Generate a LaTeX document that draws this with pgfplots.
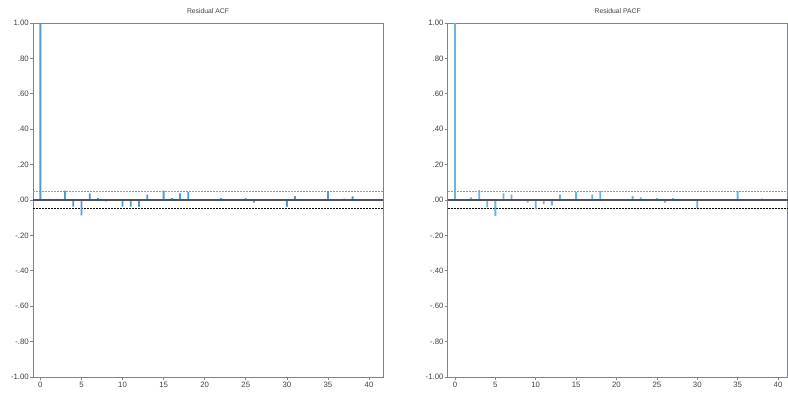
\documentclass[border=0pt]{standalone}
\usepackage{pgfplots}
\pgfplotsset{compat=1.18}
\usepackage{fontspec}
\setmainfont{Liberation Sans}
\definecolor{framec}{HTML}{80809C}
\definecolor{barc}{HTML}{4A9BD6}
\definecolor{barc2}{HTML}{6DB3E0}
\definecolor{zeroc}{HTML}{505060}
\definecolor{txtc}{HTML}{404040}
\pgfplotstableread{
lag val
0 1.0
1 0.007
2 0.007
3 0.053
4 -0.038
5 -0.087
6 0.038
7 0.01
8 -0.008
9 0.003
10 -0.038
11 -0.038
12 -0.038
13 0.03
14 0.005
15 0.053
16 0.01
17 0.038
18 0.045
19 0
20 0
21 0
22 0.01
23 0.005
24 0.005
25 0.01
26 -0.015
27 0
28 0
29 0
30 -0.038
31 0.022
32 0.005
33 0
34 0
35 0.05
36 0
37 0.008
38 0.02
}\acfdata
\pgfplotstableread{
lag val
0 1.0
1 0.005
2 0.015
3 0.056
4 -0.041
5 -0.09
6 0.038
7 0.03
8 -0.005
9 -0.015
10 -0.053
11 -0.023
12 -0.03
13 0.03
14 0.004
15 0.045
16 0.004
17 0.03
18 0.05
19 0
20 0
21 -0.005
22 0.022
23 0.015
24 0
25 0.01
26 -0.015
27 0.01
28 0
29 0.004
30 -0.045
31 0.004
32 0.004
33 0.004
34 0.004
35 0.05
36 0
37 0.005
38 0.008
}\pacfdata
\begin{document}
\begin{tikzpicture}
\useasboundingbox (0pt,0pt) rectangle (788pt,393pt);
\pgfplotsset{acfstyle/.style={
  scale only axis, height=354pt,
  anchor=south west,
  xmin=-0.9, xmax=41.7, ymin=-1, ymax=1,
  ytick={-1,-0.8,-0.6,-0.4,-0.2,0,0.2,0.4,0.6,0.8,1},
  yticklabels={\mbox{-1.00},\mbox{-.80},\mbox{-.60},\mbox{-.40},\mbox{-.20},\mbox{.00},\mbox{.20},\mbox{.40},\mbox{.60},\mbox{.80},\mbox{1.00}},
  xtick={0,5,...,40},
  /pgf/number format/assume math mode=true,
  tick pos=left, tick align=outside, major tick length=3pt,
  axis line style={framec, line width=0.8pt},
  every tick/.style={framec, line width=0.6pt},
  ticklabel style={font=\fontsize{7.8}{8}\selectfont, text=txtc},
  yticklabel style={inner sep=1pt},
  xticklabel style={yshift=0pt, inner sep=1.5pt},
  title style={font=\fontsize{6.8}{7}\selectfont, text=txtc, at={(0.5,1)}, anchor=south, yshift=0pt},
  clip=false,
}}
\begin{axis}[acfstyle, at={(33pt,16pt)}, width=350pt, title={Residual ACF}]
\addplot[gray!80, line width=0.6pt, dash pattern=on 2pt off 1pt] coordinates {(-0.9,0.047) (41.7,0.047)};
\addplot[black, line width=0.7pt, dash pattern=on 2pt off 1pt] coordinates {(-0.9,-0.047) (41.7,-0.047)};
\addplot[ybar, bar width=1.8pt, fill=barc, draw=none] table[x=lag, y=val] {\acfdata};
\addplot[zeroc, line width=1.3pt] coordinates {(-0.9,0) (41.7,0)};
\end{axis}
\begin{axis}[acfstyle, at={(447.7pt,16pt)}, width=340pt, xmax=41.2, title={Residual PACF}]
\addplot[gray!80, line width=0.6pt, dash pattern=on 2pt off 1pt] coordinates {(-0.9,0.047) (41.2,0.047)};
\addplot[black, line width=0.7pt, dash pattern=on 2pt off 1pt] coordinates {(-0.9,-0.047) (41.2,-0.047)};
\addplot[ybar, bar width=1.8pt, fill=barc2, draw=none] table[x=lag, y=val] {\pacfdata};
\addplot[zeroc, line width=1.3pt] coordinates {(-0.9,0) (41.2,0)};
\end{axis}
\end{tikzpicture}
\end{document}
